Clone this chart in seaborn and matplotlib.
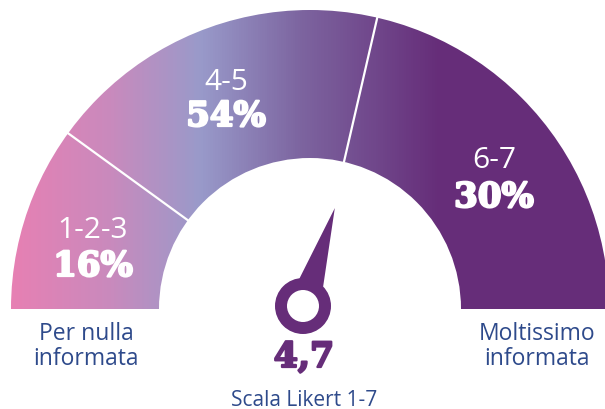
import numpy as np
import seaborn as sns
import matplotlib.pyplot as plt
import matplotlib.patheffects as pe
from matplotlib.patches import Wedge, Circle, Polygon
from matplotlib.colors import LinearSegmentedColormap

# dati
fasce = ['1-2-3', '4-5', '6-7']
percentuali = [16, 54, 30]
media = 4.7
scala = (1, 7)
estremi = ['Per nulla\ninformata', 'Moltissimo\ninformata']

sns.set_theme(style='white')
plt.rcParams['font.family'] = ['Open Sans', 'DejaVu Sans']

fig = plt.figure(figsize=(6.05, 4.10), dpi=100)
ax = fig.add_axes([0, 0, 1, 1])
ax.set_xlim(0, 605)
ax.set_ylim(0, 410)
ax.set_aspect('equal')
ax.axis('off')

cx, cy = 310, 100
R, r = 299, 151

# sfumatura orizzontale
stops = [(0, '#EA7FB2'), (110 / 605, '#C98ABD'), (200 / 605, '#999ACA'),
         (300 / 605, '#7D65A0'), (400 / 605, '#6C3D84'), (440 / 605, '#662D79'),
         (1, '#662D79')]
cmap = LinearSegmentedColormap.from_list('gauge', stops)
grad = np.linspace(0, 1, 605).reshape(1, -1)
im = ax.imshow(grad, cmap=cmap, extent=(0, 605, 0, 410), aspect='auto', zorder=1)
arco = Wedge((cx, cy), R, 0, 180, width=R - r, transform=ax.transData)
im.set_clip_path(arco)

# confini delle fasce (angoli del disegno originale)
confini = [144, 77]
for a in confini:
    t = np.radians(a)
    ax.plot([cx + (r - 2) * np.cos(t), cx + (R + 2) * np.cos(t)],
            [cy + (r - 2) * np.sin(t), cy + (R + 2) * np.sin(t)],
            color='white', lw=1.6, zorder=3, solid_capstyle='butt')

# etichette delle fasce
pos_fasce = [(93, 172, 133), (226, 320, 283), (494, 242, 202)]
for nome, p, (x, y1, y2) in zip(fasce, percentuali, pos_fasce):
    ax.text(x, y1, nome, color='white', fontsize=21.5, ha='center', va='baseline',
            fontweight='medium', zorder=4)
    ax.text(x, y2, f'{p}%', color='white', fontsize=24.5, ha='center', va='baseline',
            family='DejaVu Serif', fontweight='bold', zorder=4,
            path_effects=[pe.withStroke(linewidth=1.6, foreground='white')])

# lancetta
viola = '#662D79'
px, py = 303, 103
ang = np.radians(180 - (media - (scala[0] - 0.5)) / (scala[1] - scala[0] + 1) * 180)
L = 103
tip = (px + L * np.cos(ang), py + L * np.sin(ang))
b1 = (px + 28 * np.cos(ang + np.radians(25)), py + 28 * np.sin(ang + np.radians(25)))
b2 = (px + 28 * np.cos(ang - np.radians(28)), py + 28 * np.sin(ang - np.radians(28)))
ax.add_patch(Polygon([tip, b1, (px, py), b2], closed=True, color=viola, lw=0, zorder=5))
ax.add_patch(Circle((px, py), 28, color=viola, lw=0, zorder=5))
ax.add_patch(Circle((px, py), 16, color='white', lw=0, zorder=6))

ax.text(304, 42, f'{media:.1f}'.replace('.', ','), color=viola, fontsize=25,
        ha='center', va='baseline', family='DejaVu Serif', fontweight='bold',
        path_effects=[pe.withStroke(linewidth=1.6, foreground=viola)])

blu = '#2E4A8B'
ax.text(304, 4, f'Scala Likert {scala[0]}-{scala[1]}', color=blu, fontsize=15,
        ha='center', va='baseline')
for x, testo in zip([86, 537], estremi):
    for i, riga in enumerate(testo.split('\n')):
        ax.text(x, 70 - 25 * i, riga, color=blu, fontsize=16.5, ha='center',
                va='baseline')

fig.savefig('out.png', dpi=100)
